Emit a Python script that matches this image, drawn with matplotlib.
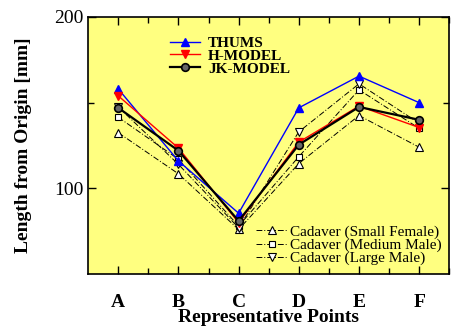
import numpy as np
import matplotlib.pyplot as plt
from matplotlib.ticker import FixedLocator
from matplotlib.lines import Line2D

plt.rcParams['font.family'] = ['Liberation Serif', 'DejaVu Serif']

points = ['A', 'B', 'C', 'D', 'E', 'F']
thums = [158, 116, 85.5, 147, 165.5, 150]
h_model = [154, 123.5, 80, 127, 148, 135.5]
jk_model = [147, 122, 81, 125.5, 147.5, 140]
cad_small = [132.5, 108.5, 76, 114.5, 142.5, 124]
cad_medium = [141.5, 117, 78, 118.5, 157.5, 135]
cad_large = [147.5, 114, 77, 133, 161, 138]

x = np.arange(1, len(points) + 1)

fig = plt.figure(figsize=(4.52, 3.33), dpi=100)
ax = fig.add_axes([0.195, 0.177, 0.799, 0.772])
ax.set_facecolor('#ffff80')

# cadaver data (thin dash-dot, open markers)
cad_kw = dict(color='black', lw=0.7, ls=(0, (6, 2, 1, 2)), mfc='white', mec='black',
              ms=6, mew=0.8)
ax.plot(x, cad_small, marker='^', **cad_kw)
ax.plot(x, cad_medium, marker='s', **dict(cad_kw, ms=5))
ax.plot(x, cad_large, marker='v', **cad_kw)

# models
thums_kw = dict(color='blue', lw=1.0, marker='^', ms=6, mfc='blue', mec='blue')
h_kw = dict(color='red', lw=1.0, marker='v', ms=6, mfc='red', mec='red')
jk_kw = dict(color='black', lw=1.6, marker='o', ms=5.5, mfc='#666666', mec='black', mew=1.2)
ax.plot(x, thums, **thums_kw)
ax.plot(x, h_model, **h_kw)
ax.plot(x, jk_model, **jk_kw)

ax.set_xlim(0.5, 6.5)
ax.set_ylim(50, 200)
ax.set_xticks(x)
ax.set_xticklabels(points, fontweight='bold', fontsize=14)
ax.xaxis.set_minor_locator(FixedLocator(x + 0.5))
ax.yaxis.set_major_locator(FixedLocator([100, 200]))
ax.yaxis.set_minor_locator(FixedLocator([150]))
ax.tick_params(axis='both', which='both', direction='in', top=True, right=True)
ax.tick_params(axis='both', which='major', length=6, width=1)
ax.tick_params(axis='both', which='minor', length=4, width=1)
ax.tick_params(axis='x', pad=14)
ax.tick_params(axis='y', labelsize=14, pad=3)
for s in ax.spines.values():
    s.set_linewidth(1.2)

ax.set_xlabel('Representative Points', fontweight='bold', fontsize=14, labelpad=-1)
ax.set_ylabel('Length from Origin [mm]', fontweight='bold', fontsize=14, labelpad=16)

h1 = [Line2D([], [], **thums_kw), Line2D([], [], **h_kw), Line2D([], [], **jk_kw)]
leg1 = ax.legend(h1, ['THUMS', 'H-MODEL', 'JK-MODEL'], loc='upper left',
                 bbox_to_anchor=(0.205, 0.955), frameon=False, handlelength=2.0,
                 handletextpad=0.5, prop={'weight': 'bold', 'size': 11},
                 labelspacing=-0.05, borderpad=0)
ax.add_artist(leg1)

h2 = [Line2D([], [], marker='^', **cad_kw),
      Line2D([], [], marker='s', **dict(cad_kw, ms=5)),
      Line2D([], [], marker='v', **cad_kw)]
ax.legend(h2, ['Cadaver (Small Female)', 'Cadaver (Medium Male)', 'Cadaver (Large Male)'],
          loc='lower right', bbox_to_anchor=(1.0, 0.005), frameon=False,
          handlelength=2.0, prop={'size': 11}, labelspacing=-0.05, borderpad=0,
          handletextpad=0.2)

fig.savefig('out.png', dpi=100)
